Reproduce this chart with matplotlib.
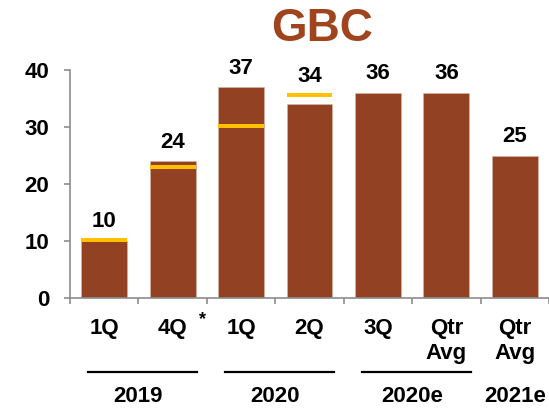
import matplotlib.pyplot as plt
from matplotlib.transforms import blended_transform_factory

plt.rcParams['font.family'] = ['Liberation Sans', 'DejaVu Sans']
plt.rcParams['font.weight'] = 'bold'

# ---- data ----
quarters = ['1Q', '4Q', '1Q', '2Q', '3Q', 'Qtr\nAvg', 'Qtr\nAvg']
values = [10, 24, 37, 34, 36, 36, 25]
targets = [10.2, 23, 30.2, 35.6, None, None, None]
groups = ['2019', '2020', '2020e', '2021e']
group_spans = [(0, 1), (2, 3), (4, 5), (6, 6)]
group_underline = [True, True, True, False]

BAR_COLOR = '#924122'
TARGET_COLOR = '#FFC000'
TITLE_COLOR = '#A0441E'
AXIS_COLOR = '#8C8C8C'
FS = 16

fig = plt.figure(figsize=(5.49, 4.08), dpi=100)
ax = fig.add_axes([70 / 549, 110 / 408, 479 / 549, 228 / 408])

x = list(range(len(values)))
bw = 0.67
ax.bar(x, values, width=bw, color=BAR_COLOR, edgecolor='#D9B8A8', linewidth=0.4, zorder=2)

# target markers
for xi, t in zip(x, targets):
    if t is not None:
        ax.plot([xi - bw / 2, xi + bw / 2], [t, t], color=TARGET_COLOR, lw=2.9,
                solid_capstyle='butt', zorder=3)

# value labels
for xi, v, t in zip(x, values, targets):
    top = max(v, t) if t is not None else v
    ax.annotate(f'{v}', (xi, top), xytext=(0, 6), textcoords='offset points',
                ha='center', va='bottom', fontsize=FS, fontweight='bold', annotation_clip=False)

ax.set_xlim(-0.5, -0.5 + 479 / 70)
ax.set_ylim(0, 40)
ax.set_yticks([0, 10, 20, 30, 40])
ax.tick_params(axis='y', labelsize=FS, length=4, color=AXIS_COLOR, width=1.2, pad=11)
for lab in ax.get_yticklabels():
    lab.set_fontweight('bold')

ax.set_xticks([i - 0.5 for i in range(len(values) + 1)])
ax.set_xticklabels([])
ax.tick_params(axis='x', length=4.5, color=AXIS_COLOR, width=1.2)

for s in ['top', 'right']:
    ax.spines[s].set_visible(False)
for s in ['left', 'bottom']:
    ax.spines[s].set_color(AXIS_COLOR)
    ax.spines[s].set_linewidth(1.2)

trans = blended_transform_factory(ax.transData, ax.transAxes)

# quarter labels, one text per line
line_y = [-0.158, -0.268]
for xi, q in zip(x, quarters):
    for row, part in enumerate(q.split('\n')):
        ax.text(xi, line_y[row], part, transform=trans, ha='center', va='baseline',
                fontsize=FS, fontweight='bold')
ax.text(1.43, -0.095, '*', transform=trans, ha='center', va='center', fontsize=13,
        fontweight='bold')

# year groups
for g, (a, b), ul in zip(groups, group_spans, group_underline):
    if ul:
        ax.plot([a - 0.24, b + 0.36], [-0.325, -0.325], transform=trans, color='black',
                lw=1.6, clip_on=False)
    ax.text((a + b) / 2, -0.456, g, transform=trans, ha='center', va='baseline',
            fontsize=FS, fontweight='bold')

fig.text(0.587, 0.930, 'GBC', ha='center', va='center', fontsize=33, fontweight='bold',
         color=TITLE_COLOR)

fig.savefig('out.png', dpi=100)
